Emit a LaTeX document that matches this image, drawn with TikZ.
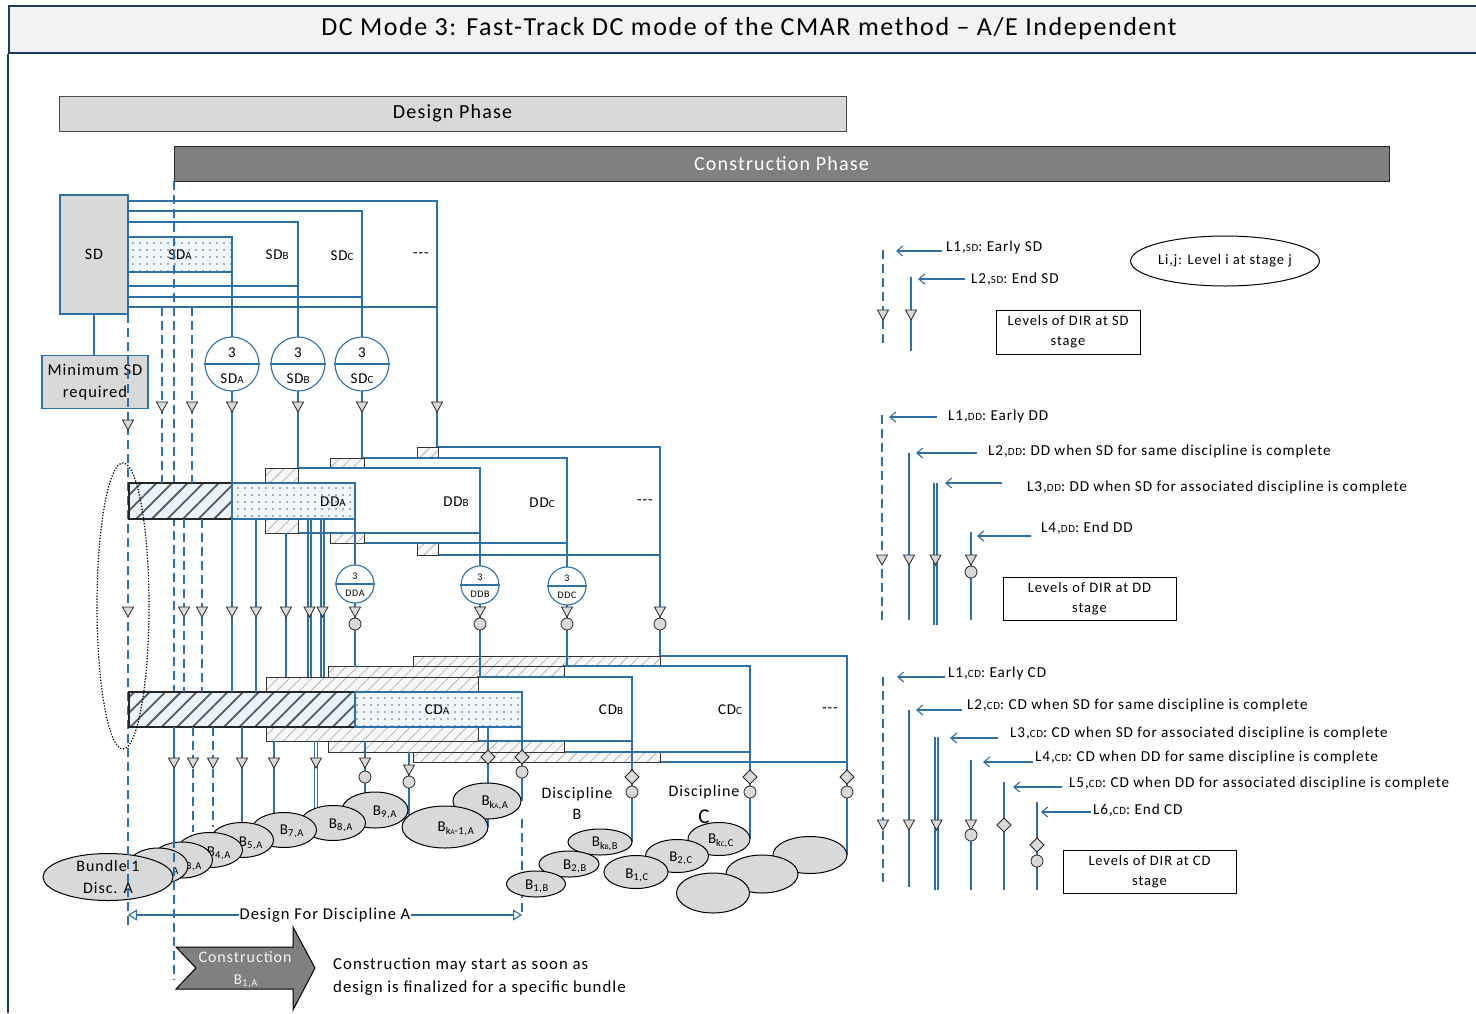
\documentclass[tikz,border=0pt]{standalone}
\usepackage{fontspec}
\setmainfont{Carlito}[LetterSpace=6]
\usetikzlibrary{patterns.meta,arrows.meta,shapes.geometric}
\definecolor{ln}{RGB}{46,112,170}
\definecolor{navy}{RGB}{32,56,100}
\definecolor{gfill}{RGB}{217,217,217}
\definecolor{hbg}{RGB}{234,243,250}
\definecolor{dbg}{RGB}{240,247,252}
\definecolor{cgray}{RGB}{128,128,128}
\newcommand\fs[1]{\fontsize{#1}{#1}\selectfont}
\newcommand\sm[1]{{\fs{11}#1}}
\newcommand\dashes{-{}-{}-}
\begin{document}
\begin{tikzpicture}[x=1pt,y=-1pt,
  conn/.style={draw=ln,line width=1.1pt},
  dconn/.style={conn,dash pattern=on 9pt off 5pt},
  frame/.style={draw=ln,fill=white,line width=1.1pt},
  lhatch/.style={draw=black!80,line width=1pt,preaction={fill=black!3},pattern={Lines[angle=45,distance=8pt,line width=0.8pt]},pattern color=black!28},
  dhatch/.style={draw=black!85,line width=1.3pt,preaction={fill=hbg},pattern={Lines[angle=45,distance=11pt,line width=1.8pt]},pattern color=black!65},
  dotbox/.style={draw=ln,line width=1.1pt,preaction={fill=dbg},pattern={Dots[distance=7pt,radius=0.9pt]},pattern color=black!60},
  bundle/.style={ellipse,draw=black,fill=gfill,line width=1pt,inner sep=0pt},
  lbl/.style={font=\fs{15},inner sep=0pt},
  leg/.style={font=\fs{15.2},inner sep=0pt,anchor=west},
  legbox/.style={draw=black,line width=1pt,font=\fontsize{14.5}{20}\selectfont,align=center,inner sep=0pt},
  legarr/.style={conn,-{Straight Barb[length=6pt,width=10pt]}},
  mtri/.pic={\draw[fill=gfill,draw=black!85,line width=0.8pt] (-5.5,-5)--(5.5,-5)--(0,5)--cycle;},
  mcir/.pic={\draw[fill=gfill,draw=black!85,line width=0.8pt] (0,0) circle[radius=6];},
  mdia/.pic={\draw[fill=gfill,draw=black!85,line width=0.8pt] (-7,0)--(0,-7)--(7,0)--(0,7)--cycle;},
  sdc/.style={circle,draw=ln,fill=white,line width=1.1pt,minimum size=54pt,inner sep=0pt},
  ddc/.style={circle,draw=ln,fill=white,line width=1.1pt,minimum size=38pt,inner sep=0pt},
]
\useasboundingbox (0,0) rectangle (1476,1013);
% ---------- title and phases
\path[fill=white] (0,0) rectangle (1476,1013);
\node[draw=navy,fill=black!5,line width=2pt,minimum width=1480pt,minimum height=47pt,anchor=north west,inner sep=0pt] (title) at (8,5) {};
\node[font=\fs{26},inner sep=0pt] (titletxt) at (749,29) {DC Mode 3: Fast-Track DC mode of the CMAR method -- A/E Independent};
\draw[navy,line width=2pt] (title.south west) -- (8,1013);
\node[draw=black!70,fill=gfill,line width=1pt,minimum width=787pt,minimum height=35pt,inner sep=0pt,font=\fs{20}] (design) at (452.5,113.5) {Design Phase};
\node[draw=black!85,fill=cgray,line width=1pt,minimum width=1215pt,minimum height=35pt,inner sep=0pt,font=\fs{20},text=white] (constr) at (781.5,163.5) {Construction Phase};

% ---------- SD level
\draw[conn] (128,201) -| (437,307) -- (128,307);
\draw[conn] (128,211) -| (362,297) -- (128,297);
\draw[conn] (128,222) -| (298,286) -- (128,286);
\path[dotbox] (128,237) rectangle (232,272);
\node[draw=ln,fill=gfill,line width=1.1pt,minimum width=68pt,minimum height=119pt,inner sep=0pt,font=\fs{16}] (sd) at (94,254.5) {SD};
\node[lbl] (sda) at (180,255) {SD\sm{A}};
\node[lbl] (sdb) at (277,255) {SD\sm{B}};
\node[lbl] (sdcl) at (342,256) {SD\sm{C}};
\node[lbl] (sdd) at (421,255) {\dashes};
\draw[conn] (sd.south) -- (94,355);
\node[draw=ln,fill=gfill,line width=1.1pt,minimum width=106pt,minimum height=53pt,inner sep=0pt,align=center,font=\fontsize{16.5}{22}\selectfont] (minsd) at (95,382) {Minimum SD\\required};

% long dashed lines (under boxes)
\draw[dconn] (128,314) -- (128,930);
\draw[dconn] (174,181) -- (174,980);

% ---------- DD frames
\path[frame] (438,447) rectangle (660,555);
\path[lhatch] (417,447) rectangle (438,555);
\path[frame] (364,458) rectangle (567,543);
\path[lhatch] (330,458) rectangle (364,543);
\path[frame] (298,468) rectangle (480,533);
\path[lhatch] (265,468) rectangle (298,533);
\path[dhatch] (129,483) rectangle (232,519);
\path[dotbox] (232,483) rectangle (355,519);
\node[lbl] (dda) at (333,502) {DD\sm{A}};
\node[lbl] (ddb) at (456,502) {DD\sm{B}};
\node[lbl] (ddcl) at (542,503) {DD\sm{C}};
\node[lbl] (ddd) at (645,502) {\dashes};

% ---------- CD frames
\path[frame] (660,656) rectangle (847,762);
\path[lhatch] (413,656) rectangle (660,762);
\path[frame] (564,666) rectangle (750,752);
\path[lhatch] (328,666) rectangle (564,752);
\path[frame] (478,677) rectangle (632,741);
\path[lhatch] (266,677) rectangle (478,741);
\path[dhatch] (129,692) rectangle (355,727);
\path[dotbox] (355,692) rectangle (522,727);
\node[lbl] (cda) at (437,710) {CD\sm{A}};
\node[lbl] (cdb) at (611,710) {CD\sm{B}};
\node[lbl] (cdcl) at (730,710) {CD\sm{C}};
\node[lbl] (cdd) at (830,710) {\dashes};

% ---------- connectors SD -> DD
\draw[conn] (232,272) -- (232,483);
\draw[conn] (232,519) -- (232,692);
\draw[conn] (298,286) -- (298,468);
\draw[conn] (362,297) -- (362,458);
\draw[conn] (437,307) -- (437,447);
\draw[dconn] (162,307) -- (162,483);
\draw[dconn] (192,307) -- (192,483);
% DD -> CD
\draw[dconn] (184,519) -- (184,692);
\draw[dconn] (202,519) -- (202,692);
\draw[conn] (256,519) -- (256,692);
\draw[conn] (286,533) -- (286,677);
\draw[conn] (308,519) -- (308,677);
\draw[conn] (311,519) -- (311,677);
\draw[conn] (321,519) -- (321,677);
\draw[conn] (324,519) -- (324,677);
\draw[conn] (355,483) -- (355,667);
\draw[conn] (480,468) -- (480,677);
\draw[conn] (567,458) -- (567,666);
\draw[conn] (660,447) -- (660,656);
% CD -> bundles
\draw[conn] (174,727) -- (174,842);
\draw[dconn] (193,727) -- (193,832);
\draw[dconn] (213,727) -- (213,827);
\draw[conn] (242,727) -- (242,823);
\draw[conn] (274,741) -- (274,813);
\draw[conn] (314.5,741) -- (314.5,823);
\draw[conn] (317.5,741) -- (317.5,823);
\draw[conn] (365,741) -- (365,800);
\draw[conn] (409,752) -- (409,815);
\draw[conn] (488,727) -- (488,827);
\draw[conn] (522,727) -- (522,801);
\draw[conn] (632,677) -- (632,842);
\draw[conn] (750,666) -- (750,839);
\draw[conn] (847,656) -- (847,855);
\draw[dconn] (522,819) -- (522,915);

% ---------- "3" circles
\foreach \n/\x/\t in {ca/232/A,cb/298/B,cc/362/C}{
  \node[sdc] (\n) at (\x,364) {};
  \draw[conn] (\n.west) -- (\n.east);
  \node[lbl] at (\x,353) {3};
  \node[lbl] at (\x,379) {SD\sm{\t}};
}
\foreach \n/\x/\y/\t in {da/355/584/A,db/480/585/B,dc/567/586/C}{
  \node[ddc] (\n) at (\x,\y) {};
  \draw[conn] (\n.west) -- (\n.east);
  \node[font=\fs{10},inner sep=0pt] at (\x,\y-8) {3};
  \node[font=\fs{10},inner sep=0pt] at (\x,\y+9) {DD\t};
}

% ---------- markers
\foreach \x in {162,192,232,298,362,437} \pic at (\x,407) {mtri};
\pic at (128,425) {mtri};
\foreach \x in {128,184,202,232,256,286,309.5,322.5,355,480,567,660} \pic at (\x,612) {mtri};
\foreach \x in {355,480,567,660} \pic at (\x,624) {mcir};
\foreach \x in {174,193,213,242,274,316,365} \pic at (\x,763) {mtri};
\pic at (409,770) {mtri};
\pic at (365,777) {mcir};
\pic at (409,782) {mcir};
\pic at (488,757) {mdia};
\pic at (522,757) {mdia};
\pic at (522,772) {mcir};
\foreach \x in {632,750,847}{\pic at (\x,777) {mdia}; \pic at (\x,792) {mcir};}

% dotted ellipse
\draw[black,line width=1.2pt,dash pattern=on 1.3pt off 1.6pt] (123,606) ellipse [x radius=26,y radius=143];

% ---------- bundles discipline A
\node[bundle,minimum width=68pt,minimum height=36pt] (bka) at (487,801) {};
\node[lbl] (tbka) at (495,803) {B\textsubscript{k{\fs{7}A},A}};
\node[bundle,minimum width=66pt,minimum height=36pt] (b9) at (375,810) {};
\node[lbl] (tb9) at (385,812) {B\textsubscript{9,A}};
\node[bundle,minimum width=86pt,minimum height=42pt] (bk1) at (445,827) {};
\node[lbl] (tbk1) at (456,829) {B\textsubscript{k{\fs{7}A}-1,A}};
\node[bundle,minimum width=65pt,minimum height=35pt] (b8) at (333,823) {};
\node[lbl] (tb8) at (341,825) {B\textsubscript{8,A}};
\node[bundle,minimum width=65pt,minimum height=35pt] (b7) at (284,830) {};
\node[lbl] (tb7) at (292,831) {B\textsubscript{7,A}};
\node[bundle,minimum width=63pt,minimum height=35pt] (b5) at (242,840) {};
\node[lbl] (tb5) at (251,843) {B\textsubscript{5,A}};
\node[bundle,minimum width=65pt,minimum height=35pt] (b4) at (210,850) {};
\node[lbl] (tb4) at (219,853) {B\textsubscript{4,A}};
\node[bundle,minimum width=61pt,minimum height=36pt] (b3) at (182,860) {};
\node[lbl] (tb3) at (190,864) {B\textsubscript{3,A}};
\node[bundle,minimum width=60pt,minimum height=36pt] (b2) at (158,866) {};
\node[lbl] (tb2) at (167,869) {B\textsubscript{2,A}};
\node[bundle,minimum width=130pt,minimum height=47pt,align=center,font=\fontsize{16}{22}\selectfont] (b1) at (108,877) {Bundle 1\\Disc. A};
% discipline B
\node[bundle,minimum width=64pt,minimum height=26pt] (bkb) at (600,842) {};
\node[lbl] (tbkb) at (605,844) {B\textsubscript{k{\fs{7}B},B}};
\node[bundle,minimum width=60pt,minimum height=26pt] (b2b) at (569,864) {};
\node[lbl] (tb2b) at (575,866) {B\textsubscript{2,B}};
\node[bundle,minimum width=59pt,minimum height=26pt] (b1b) at (536,884) {};
\node[lbl] (tb1b) at (537,886) {B\textsubscript{1,B}};
% discipline C
\node[bundle,minimum width=62pt,minimum height=33pt] (bkc) at (719,839) {};
\node[lbl] (tbkc) at (721,841) {B\textsubscript{k{\fs{7}C},C}};
\node[bundle,minimum width=63pt,minimum height=33pt] (b2c) at (677,856) {};
\node[lbl] (tb2c) at (681,858) {B\textsubscript{2,C}};
\node[bundle,minimum width=64pt,minimum height=33pt] (b1c) at (636,872) {};
\node[lbl] (tb1c) at (637,875) {B\textsubscript{1,C}};
% others
\node[bundle,minimum width=74pt,minimum height=37pt] (e3) at (810,855) {};
\node[bundle,minimum width=72pt,minimum height=38pt] (e2) at (762,874) {};
\node[bundle,minimum width=73pt,minimum height=40pt] (e1) at (713,893) {};

\node[font=\fontsize{16}{21}\selectfont,align=center,inner sep=0pt] (discb) at (577,803) {Discipline\\B};
\node[font=\fs{16},inner sep=0pt] (discc) at (704,792) {Discipline};
\node[font=\fs{21},inner sep=0pt] (discc2) at (704,817) {C};

% long dashed lines redrawn over the bundles
\begin{scope}
\clip (0,770) rectangle (1476,1013);
\draw[dconn] (128,314) -- (128,930);
\draw[dconn] (174,181) -- (174,980);
\end{scope}

% design for discipline A
\coordinate (dl) at (128,915);
\coordinate (dr) at (522,915);
\draw[conn,{Triangle[open,length=9pt,width=11pt]}-{Triangle[open,length=9pt,width=11pt]}] (dl) -- (dr);
\node[fill=white,font=\fs{16.5},inner sep=1pt] (dfa) at (325,915) {Design For Discipline A};

% construction arrow
\draw[fill=cgray,draw=black,line width=1pt] (176,947) -- (293,947) -- (293,927) -- (315,968) -- (293,1010) -- (293,989) -- (176,989) -- (196,968) -- cycle;
\node[font=\fs{16},text=black!5,inner sep=0pt] (cb1) at (245,957) {Construction};
\node[font=\fs{15},text=black!5,inner sep=0pt] (cb2) at (246,981) {B\textsubscript{1,A}};
\node[font=\fontsize{16.8}{23}\selectfont,align=left,anchor=west,inner sep=0pt] (cnote) at (333,977) {Construction may start as soon as\\design is finalized for a specific bundle};

% ---------- legend SD
\draw[dconn] (883,250) -- (883,345);
\draw[conn] (911,277) -- (911,351);
\pic at (883,315) {mtri};
\pic at (911,315) {mtri};
\node[leg] (l1sd) at (946,247) {L1,\sm{SD}: Early SD};
\node[leg] (l2sd) at (971,279) {L2,\sm{SD}: End SD};
\draw[legarr] (l1sd.west) ++(-4,4) -- (896,251);
\draw[legarr] (l2sd.west) ++(-6,0) -- (918,279);
\node[legbox,minimum width=144pt,minimum height=44pt] (boxsd) at (1068,332) {Levels of DIR at SD\\stage};
\node[ellipse,draw=black,line width=1pt,minimum width=182pt,minimum height=50pt,inner sep=0pt,font=\fs{14.5}] (lij) at (1225,261) {Li,j: Level i at stage j};

% ---------- legend DD
\draw[dconn] (882,415) -- (882,620);
\draw[conn] (909,453) -- (909,620);
\draw[conn] (934,483) -- (934,625);
\draw[conn] (937,483) -- (937,625);
\draw[conn] (971,532) -- (971,620);
\foreach \x in {882,909,935.5,971} \pic at (\x,560) {mtri};
\pic at (971,572) {mcir};
\node[leg] (l1dd) at (948,416) {L1,\sm{DD}: Early DD};
\node[leg] (l2dd) at (988,451) {L2,\sm{DD}: DD when SD for same discipline is complete};
\node[leg] (l3dd) at (1027,487) {L3,\sm{DD}: DD when SD for associated discipline is complete};
\node[leg] (l4dd) at (1041,528) {L4,\sm{DD}: End DD};
\coordinate (a1dd) at (937,417);
\coordinate (a2dd) at (977,453);
\coordinate (a3dd) at (1002,483);
\coordinate (a4dd) at (1031,536);
\draw[legarr] (a1dd) -- (889,417);
\draw[legarr] (a2dd) -- (916,453);
\draw[legarr] (a3dd) -- (945,483);
\draw[legarr] (a4dd) -- (977,536);
\node[legbox,minimum width=173pt,minimum height=43pt] (boxdd) at (1089.5,598.5) {Levels of DIR at DD\\stage};

% ---------- legend CD
\draw[dconn] (883,677) -- (883,887);
\draw[conn] (909,710) -- (909,887);
\draw[conn] (935,737) -- (935,890);
\draw[conn] (938,737) -- (938,890);
\draw[conn] (971,760) -- (971,890);
\draw[conn] (1004,782) -- (1004,890);
\draw[conn] (1037,802) -- (1037,890);
\foreach \x in {883,909,936.5,971} \pic at (\x,825) {mtri};
\pic at (971,835) {mcir};
\pic at (1004,825) {mdia};
\pic at (1037,845) {mdia};
\pic at (1037,861) {mcir};
\node[leg] (l1cd) at (948,673) {L1,\sm{CD}: Early CD};
\node[leg] (l2cd) at (967,705) {L2,\sm{CD}: CD when SD for same discipline is complete};
\node[leg] (l3cd) at (1010,733) {L3,\sm{CD}: CD when SD for associated discipline is complete};
\node[leg] (l4cd) at (1035,757) {L4,\sm{CD}: CD when DD for same discipline is complete};
\node[leg] (l5cd) at (1069,783) {L5,\sm{CD}: CD when DD for associated discipline is complete};
\node[leg] (l6cd) at (1093,810) {L6,\sm{CD}: End CD};
\coordinate (a1cd) at (945,677);
\coordinate (a2cd) at (962,710);
\coordinate (a3cd) at (998,738);
\coordinate (a4cd) at (1033,762);
\coordinate (a5cd) at (1062,787);
\coordinate (a6cd) at (1091,812);
\draw[legarr] (a1cd) -- (897,677);
\draw[legarr] (a2cd) -- (916,710);
\draw[legarr] (a3cd) -- (950,738);
\draw[legarr] (a4cd) -- (983,762);
\draw[legarr] (a5cd) -- (1013,787);
\draw[legarr] (a6cd) -- (1041,812);
\node[legbox,minimum width=173pt,minimum height=43pt] (boxcd) at (1149.5,871.5) {Levels of DIR at CD\\stage};
\end{tikzpicture}
\end{document}
